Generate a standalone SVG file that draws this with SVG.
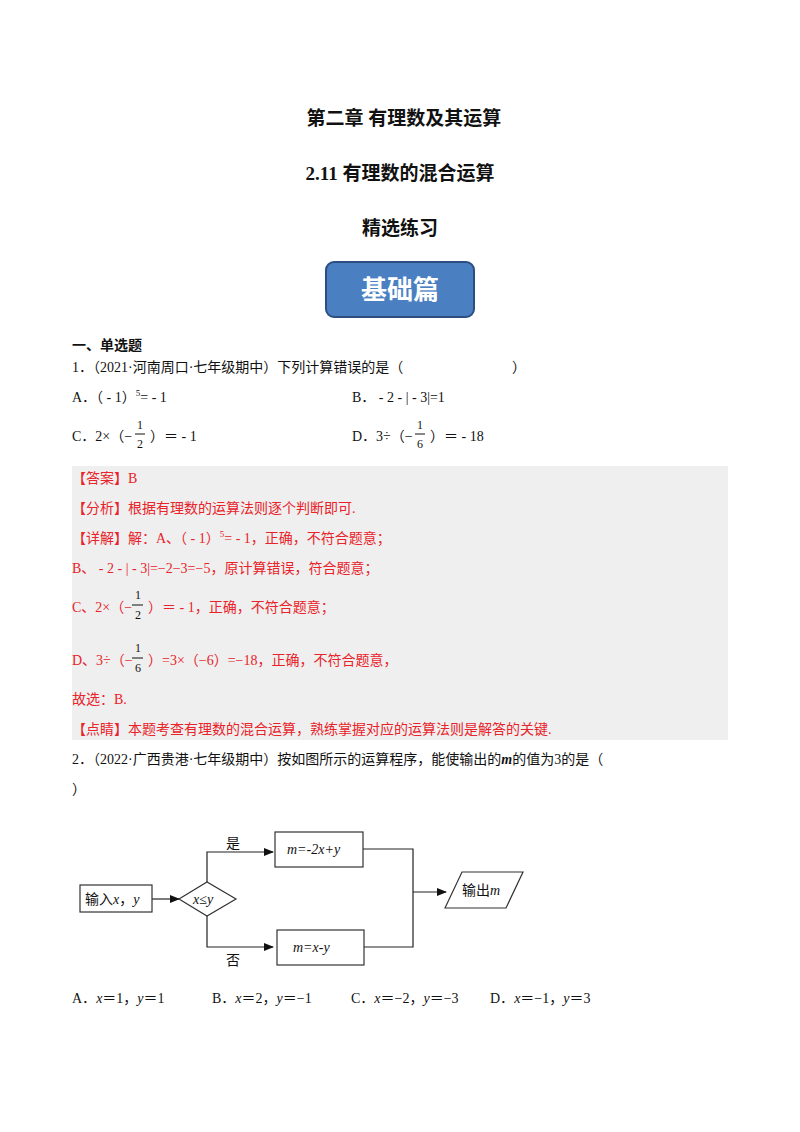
<svg xmlns="http://www.w3.org/2000/svg" width="800" height="1132" viewBox="0 0 800 1132">
<style>
text{font-family:"Liberation Serif","Noto Sans CJK SC",serif;font-size:14px;fill:#111}
.h{font-weight:bold;font-size:19px;text-anchor:middle}
.r{fill:#e8232a}
.i{font-style:italic}
.box{fill:#fff;stroke:#333;stroke-width:1.2}
.ln{fill:none;stroke:#222;stroke-width:1.2}
.f{font-size:12px}
</style>
<defs><marker id="a" markerWidth="10" markerHeight="8" refX="9" refY="4" orient="auto" markerUnits="userSpaceOnUse"><path d="M0,0L10,4L0,8z" fill="#111"/></marker></defs>
<rect width="800" height="1132" fill="#fff"/>
<text class="h" x="404" y="125">第二章  有理数及其运算</text>
<text class="h" x="400" y="180">2.11  有理数的混合运算</text>
<text class="h" x="400" y="235">精选练习</text>
<g id="badge"><rect x="326" y="262" width="148" height="55" rx="8" fill="#4a7fc1" stroke="#2c4e80" stroke-width="2"/>
<text x="400" y="299" style="font-size:26px;font-weight:bold;fill:#fff;text-anchor:middle">基础篇</text></g>
<text x="72" y="350" style="font-weight:bold">一、单选题</text>
<text x="72" y="372">1．（2021·河南周口·七年级期中）下列计算错误的是（</text><text x="512" y="372">）</text>
<text x="72" y="402">A．（ - 1）<tspan dy="-6" font-size="9">5</tspan><tspan dy="6">= - 1</tspan></text>
<text x="352" y="402">B．  - 2 - | - 3|=1</text>
<text x="72" y="441">C．2×（−</text><text x="150" y="441">）＝ - 1</text>
<text x="137" y="429" class="f">1</text><line x1="135" y1="434" x2="145" y2="434" stroke="#111"/><text x="137" y="448" class="f">2</text>
<text x="352" y="441">D．3÷（−</text><text x="430" y="441">）＝ - 18</text>
<text x="417" y="429" class="f">1</text><line x1="415" y1="434" x2="425" y2="434" stroke="#111"/><text x="417" y="448" class="f">6</text>
<rect x="72" y="466" width="656" height="274" fill="#efefef"/>
<text class="r" x="72" y="483">【答案】B</text>
<text class="r" x="72" y="513">【分析】根据有理数的运算法则逐个判断即可.</text>
<text class="r" x="72" y="543">【详解】解：A、（ - 1）<tspan dy="-6" font-size="9">5</tspan><tspan dy="6">= - 1，正确，不符合题意；</tspan></text>
<text class="r" x="72" y="573">B、 - 2 - | - 3|=−2−3=−5，原计算错误，符合题意；</text>
<text class="r" x="72" y="612">C、2×（−</text><text class="r" x="148" y="612">）＝ - 1，正确，不符合题意；</text>
<text x="135" y="599" class="f">1</text><line x1="132" y1="605" x2="143" y2="605" stroke="#111"/><text x="135" y="619" class="f">2</text>
<text class="r" x="72" y="665">D、3÷（−</text><text class="r" x="148" y="665">）=3×（−6）=−18，正确，不符合题意，</text>
<text x="135" y="652" class="f">1</text><line x1="132" y1="658" x2="143" y2="658" stroke="#111"/><text x="135" y="672" class="f">6</text>
<text class="r" x="72" y="704">故选：B.</text>
<text class="r" x="72" y="734">【点睛】本题考查有理数的混合运算，熟练掌握对应的运算法则是解答的关键.</text>
<text x="72" y="764">2．（2022·广西贵港·七年级期中）按如图所示的运算程序，能使输出的<tspan class="i" font-weight="bold">m</tspan>的值为3的是（</text>
<text x="72" y="794">）</text>
<g id="connectors">
<line class="ln" x1="152" y1="899" x2="179" y2="899" marker-end="url(#a)"/>
<polyline class="ln" points="207,882 207,852 273,852" marker-end="url(#a)"/>
<polyline class="ln" points="207,916 207,947 273,947" marker-end="url(#a)"/>
<polyline class="ln" points="363,849 413,849 413,947 364,947"/>
<line class="ln" x1="413" y1="892" x2="446" y2="892" marker-end="url(#a)"/>
</g>
<g id="input"><rect class="box" x="80" y="885" width="72" height="27"/><text x="85" y="904">输入<tspan class="i">x</tspan>，<tspan class="i">y</tspan></text></g>
<g id="cond"><polygon class="box" points="179,899 207,882 236,899 207,916"/><text x="193" y="904" class="i">x≤y</text></g>
<text x="226" y="848">是</text><text x="226" y="965">否</text>
<g id="yes"><rect class="box" x="275" y="832" width="88" height="35"/><text x="287" y="854" class="i">m=-2x+y</text></g>
<g id="no"><rect class="box" x="277" y="930" width="87" height="35"/><text x="293" y="952" class="i">m=x-y</text></g>
<g id="out"><polygon class="box" points="445,908 462,872 523,872 506,908"/><text x="462" y="895">输出<tspan class="i">m</tspan></text></g>
<text x="72" y="1003">A．<tspan class="i">x</tspan>＝1，<tspan class="i">y</tspan>＝1</text>
<text x="212" y="1003">B．<tspan class="i">x</tspan>＝2，<tspan class="i">y</tspan>＝−1</text>
<text x="351" y="1003">C．<tspan class="i">x</tspan>＝−2，<tspan class="i">y</tspan>＝−3</text>
<text x="490" y="1003">D．<tspan class="i">x</tspan>＝−1，<tspan class="i">y</tspan>＝3</text>
</svg>
